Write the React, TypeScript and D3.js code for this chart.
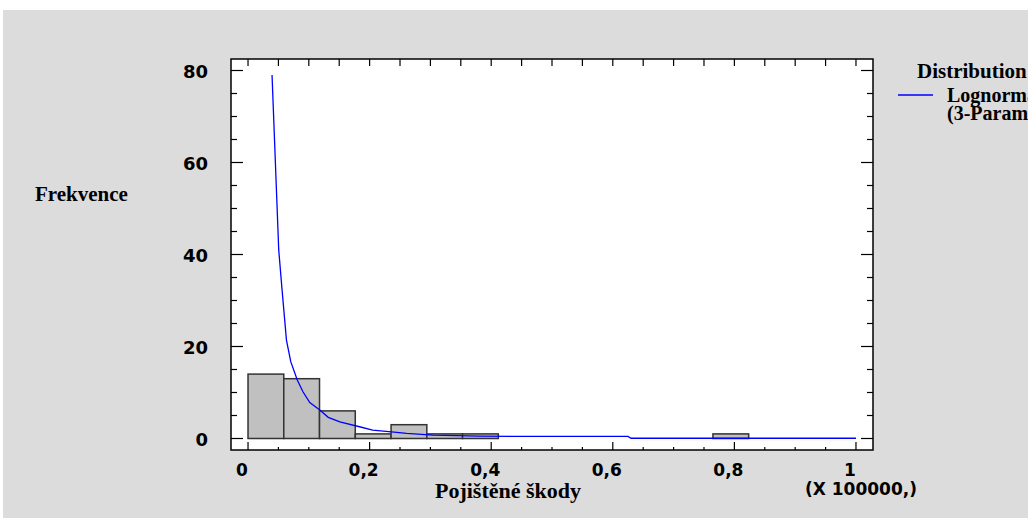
import React from "react";
import * as d3 from "d3";

const binStarts = [0, 0.0588, 0.1176, 0.1765, 0.2353, 0.2941, 0.3529, 0.4118, 0.4706, 0.5294, 0.5882, 0.6471, 0.7059, 0.7647, 0.8235, 0.8824, 0.9412];
const binWidth = 0.0588;
const counts = [14, 13, 6, 1, 3, 1, 1, 0, 0, 0, 0, 0, 0, 1, 0, 0, 0];

const curveX = [0.0395, 0.0505, 0.056, 0.0632, 0.0703, 0.081, 0.0906, 0.1016, 0.118, 0.132, 0.151, 0.185, 0.205, 0.236, 0.261, 0.304, 0.381, 0.447, 0.625, 0.63, 1.0];
const curveY = [79, 41, 32.3, 21.4, 16.7, 12.7, 10.1, 7.8, 6.2, 4.6, 3.6, 2.5, 1.8, 1.45, 1.1, 0.72, 0.5, 0.45, 0.45, 0.05, 0.05];

const xTickLabels = ["0", "0,2", "0,4", "0,6", "0,8", "1"];
const xTickValues = [0, 0.2, 0.4, 0.6, 0.8, 1];
const yTickLabels = ["0", "20", "40", "60", "80"];
const yTickValues = [0, 20, 40, 60, 80];

export default function App() {
  const x = d3.scaleLinear().domain([-0.028, 1.028]).range([231, 873]);
  const y = d3.scaleLinear().domain([-2.5, 82.5]).range([450, 59]);
  const [x0, x1] = x.range();
  const [yb, yt] = y.range();

  const xMinor = d3.range(0, 1.0001, 0.05);
  const yMinor = d3.range(0, 80.001, 5);

  const line = d3
    .line<number>()
    .x((_, i) => x(curveX[i]))
    .y((d) => y(d));

  const tickFont = "'DejaVu Sans', sans-serif";
  const serif = "'Liberation Serif', 'Times New Roman', serif";

  return (
    <svg width={1028} height={518} style={{ position: "absolute", left: 0, top: 0 }}>
      <rect x={3} y={10} width={1025} height={508} fill="#dcdcdc" />
      <rect x={x0} y={yt} width={x1 - x0} height={yb - yt} fill="#ffffff" />
      {counts.map((c, i) =>
        c > 0 ? (
          <rect
            key={i}
            x={x(binStarts[i])}
            y={y(c)}
            width={x(binStarts[i] + binWidth) - x(binStarts[i])}
            height={y(0) - y(c)}
            fill="#c0c0c0"
            stroke="#333"
            strokeWidth={1.5}
          />
        ) : null
      )}
      <path d={line(curveY) || ""} fill="none" stroke="#0000ff" strokeWidth={1.3} />
      <rect x={x0} y={yt} width={x1 - x0} height={yb - yt} fill="none" stroke="#000" strokeWidth={1.5} />
      {xMinor.map((v, i) => {
        const major = i % 4 === 0;
        return (
          <g key={"xt" + i}>
            <line x1={x(v)} x2={x(v)} y1={yb} y2={yb - (major ? 8 : 3)} stroke="#000" strokeWidth={1.2} />
            <line x1={x(v)} x2={x(v)} y1={yt} y2={yt + 7} stroke="#000" strokeWidth={1.2} />
          </g>
        );
      })}
      {yMinor.map((v, i) => {
        const major = i % 4 === 0;
        const len = major ? 12 : 6;
        return (
          <g key={"yt" + i}>
            <line x1={x0} x2={x0 + len} y1={y(v)} y2={y(v)} stroke="#000" strokeWidth={1.2} />
            <line x1={x1} x2={x1 - len} y1={y(v)} y2={y(v)} stroke="#000" strokeWidth={1.2} />
          </g>
        );
      })}
      {xTickValues.map((v, i) => (
        <text key={"xl" + i} x={x(v) - 6} y={476} textAnchor="middle" fontFamily={tickFont} fontWeight="bold" fontSize={17} fill="#000">
          {xTickLabels[i]}
        </text>
      ))}
      <text x={861} y={495} textAnchor="middle" fontFamily={tickFont} fontWeight="bold" fontSize={17} fill="#000">
        (X 100000,)
      </text>
      {yTickValues.map((v, i) => (
        <text key={"yl" + i} x={208} y={y(v) + 7} textAnchor="end" fontFamily={tickFont} fontWeight="bold" fontSize={18} fill="#000">
          {yTickLabels[i]}
        </text>
      ))}
      <text x={35} y={201} fontFamily={serif} fontWeight="bold" fontSize={21} fill="#000">
        Frekvence
      </text>
      <text x={508} y={498} textAnchor="middle" fontFamily={serif} fontWeight="bold" fontSize={22} fill="#000">
        Pojištěné škody
      </text>
      <text x={917} y={78} fontFamily={serif} fontWeight="bold" fontSize={21} fill="#000">
        Distribution
      </text>
      <line x1={898} x2={933} y1={95} y2={95} stroke="#0000ff" strokeWidth={1.3} />
      <text x={947} y={102} fontFamily={serif} fontWeight="bold" fontSize={20} fill="#000">
        Lognormal
      </text>
      <text x={947} y={120} fontFamily={serif} fontWeight="bold" fontSize={20} fill="#000">
        (3-Parameter)
      </text>
    </svg>
  );
}
